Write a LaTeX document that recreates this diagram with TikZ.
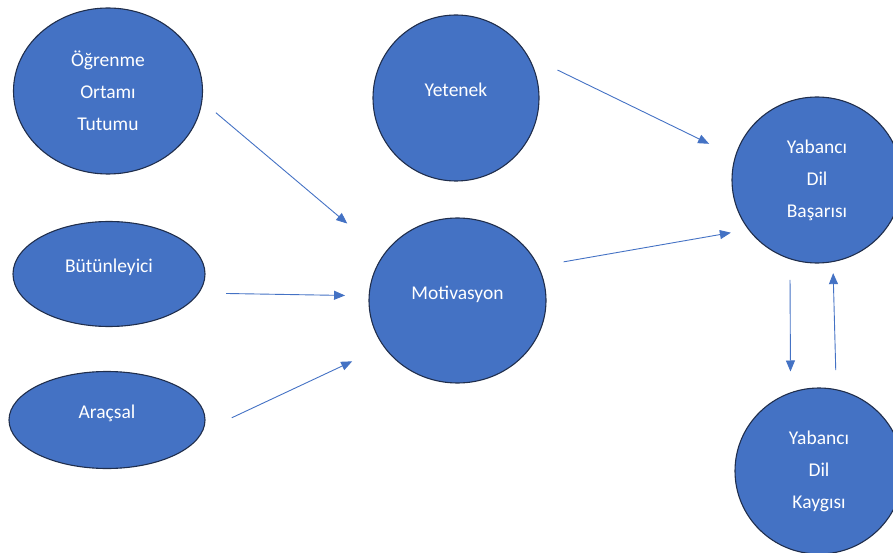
\documentclass[tikz,border=0pt]{standalone}
\usepackage{fontspec}
\setmainfont{Carlito}
\usepackage{tikz}
\usetikzlibrary{arrows.meta}
\usetikzlibrary{shapes.geometric}
\definecolor{kutumavi}{RGB}{68,114,196}
\definecolor{kenar}{RGB}{32,46,76}
\colorlet{okrengi}{kutumavi}
\tikzstyle{kavram}=[ellipse,draw=kenar,line width=1.1pt,fill=kutumavi,inner sep=0pt,outer sep=0pt,text=white,align=center,font=\fontsize{19.5}{32}\selectfont]
\tikzstyle{teksatir}=[text height=12pt,text depth=15pt]
\tikzstyle{ok}=[draw=okrengi,line width=.9pt,-{Triangle[length=11pt,width=9pt]}]

\begin{document}
\begin{tikzpicture}[x=1pt,y=-1pt]
  \useasboundingbox (0,0) rectangle (893,553);
  \clip (0,0) rectangle (893,553);
  \node[kavram,minimum width=189,minimum height=166] (ogrenme) at (108,91) {Öğrenme\\Ortamı\\Tutumu};
  \node[kavram,teksatir,minimum width=192,minimum height=105] (butun) at (109,274) {Bütünleyici};
  \node[kavram,teksatir,minimum width=196,minimum height=97] (aracsal) at (107,420) {Araçsal};
  \node[kavram,teksatir,minimum width=166,minimum height=166] (yetenek) at (456,98) {Yetenek};
  \node[kavram,teksatir,minimum width=177,minimum height=165] (motiv) at (457.5,300.5) {Motivasyon};
  \node[kavram,minimum width=170,minimum height=166] (basari) at (817,180) {Yabancı\\Dil\\Başarısı};
  \node[kavram,minimum width=168,minimum height=166] (kaygi) at (819,471) {Yabancı\\Dil\\Kaygısı};
  \draw[ok,shorten <=18.4pt,shorten >=48.1pt] (ogrenme.-6.1) -- (motiv.148.4);
  \draw[ok,shorten <=27.6pt,shorten >=24.1pt] (butun.-12.1) -- (motiv.177.9);
  \draw[ok,shorten <=32.7pt,shorten >=35.1pt] (aracsal.-7.8) -- (motiv.212.2);
  \draw[ok,shorten <=33.8pt,shorten >=29.3pt] (yetenek.31) -- (basari.164.2);
  \draw[ok,shorten <=26pt,shorten >=18.2pt] (motiv.23.7) -- (basari.216.1);
  \draw[ok,shorten <=21.3pt,shorten >=21.4pt] (basari.251.1) -- (kaygi.110.4);
  \draw[ok,shorten <=19.6pt,shorten >=11.6pt] (kaygi.78.5) -- (basari.-79.6);
\end{tikzpicture}
\end{document}
